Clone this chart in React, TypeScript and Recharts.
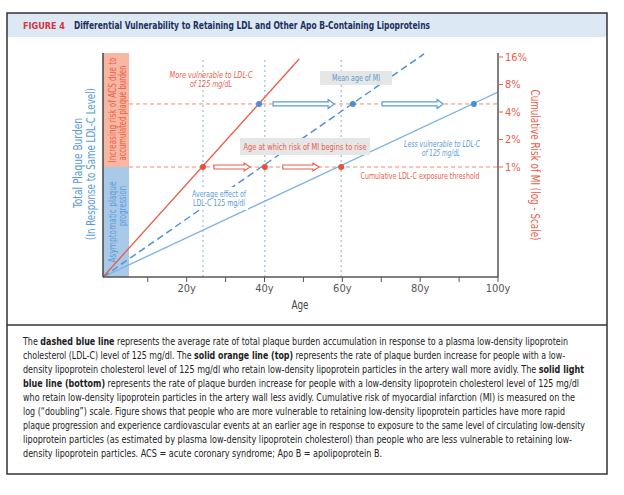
import React from 'react'
import {
  LineChart, Line, XAxis, YAxis, ReferenceLine, ReferenceArea, ReferenceDot
} from 'recharts'

// ages (x) and plaque burden (hidden left axis, 0-100)
const moreVulnerable = [{ age: -1.5, plaque: 0 }, { age: 48.9, plaque: 97.3 }]
const averageEffect = [{ age: -1.5, plaque: 0 }, { age: 81.0, plaque: 99.6 }]
const lessVulnerable = [{ age: -1.5, plaque: 0 }, { age: 100, plaque: 82.6 }]

const AGE_TICKS = [10, 20, 30, 40, 50, 60, 70, 80, 90, 100]
const RISK_TICKS = [1, 2, 4, 8, 16]
const RISK_DOMAIN = [0.0625, 17.7]

const THRESHOLD_RISK = 1
const MEAN_MI_RISK = 4.9
const onsetAges = [24.2, 40.1, 59.7]
const meanMiAges = [38.6, 62.7, 93.8]
const redArrows = [[27.0, 36.3], [44.7, 54.0]]
const blueArrows = [[42.2, 57.9], [70.2, 85.9]]
const BAND_AGES = [-1.5, 5.2]

const RED = '#ec5a43'
const BLUE = '#4a8fd6'
const LIGHT_BLUE = '#7cb2e2'
const TXT_BLUE = '#5b9bd5'
const TXT_RED = '#e8604c'
const FONT = "'Liberation Sans Narrow', 'DejaVu Sans Condensed', sans-serif"

const caption: [string, boolean][][] = [
  [['The ', false], ['dashed blue line', true], [' represents the average rate of total plaque burden accumulation in response to a plasma low-density lipoprotein', false]],
  [['cholesterol (LDL-C) level of 125 mg/dl. The ', false], ['solid orange line (top)', true], [' represents the rate of plaque burden increase for people with a low-', false]],
  [['density lipoprotein cholesterol level of 125 mg/dl who retain low-density lipoprotein particles in the artery wall more avidly. The ', false], ['solid light', true]],
  [['blue line (bottom)', true], [' represents the rate of plaque burden increase for people with a low-density lipoprotein cholesterol level of 125 mg/dl', false]],
  [['who retain low-density lipoprotein particles in the artery wall less avidly. Cumulative risk of myocardial infarction (MI) is measured on the', false]],
  [['log (\u201cdoubling\u201d) scale. Figure shows that people who are more vulnerable to retaining low-density lipoprotein particles have more rapid', false]],
  [['plaque progression and experience cardiovascular events at an earlier age in response to exposure to the same level of circulating low-density', false]],
  [['lipoprotein particles (as estimated by plasma low-density lipoprotein cholesterol) than people who are less vulnerable to retaining low-', false]],
  [['density lipoprotein particles. ACS = acute coronary syndrome; Apo B = apolipoprotein B.', false]],
]
const captionWidths = [545, 542, 561, 556, 552, 542, 562, 549, 359]

// hollow block arrow drawn along a reference segment
const makeArrow = (color: string, head: number) => (props: any) => {
  const { x1: xa, y1: cy, x2: xb } = props
  const bh = 4
  const hl = 6
  const d = `M${xa},${cy - bh / 2} L${xb - hl},${cy - bh / 2} L${xb - hl},${cy - head / 2} L${xb},${cy} ` +
    `L${xb - hl},${cy + head / 2} L${xb - hl},${cy + bh / 2} L${xa},${cy + bh / 2} Z`
  return <path d={d} fill="#fff" stroke={color} strokeWidth={1.2} />
}

const T = ({ x, y, w, children, rot, anchor = 'middle', ...rest }: any) => (
  <text
    x={x} y={y} textAnchor={anchor} fontFamily={FONT}
    textLength={w} lengthAdjust="spacingAndGlyphs"
    transform={rot ? `rotate(${rot} ${x} ${y})` : undefined}
    {...rest}
  >
    {children}
  </text>
)

export default function App() {
  return (
    <div style={{ position: 'absolute', left: 0, top: 0, width: 624, height: 495, background: '#fff' }}>
      <div style={{ position: 'absolute', left: 0, top: 0 }}>
        <LineChart width={624} height={320} margin={{ top: 53, right: 66, bottom: 13, left: 102 }}>
          <XAxis
            type="number" dataKey="age" domain={[-1.5, 100]} allowDataOverflow
            ticks={AGE_TICKS} tickFormatter={(v) => (v % 20 === 0 ? `${v}y` : '')}
            tickSize={5} height={30}
            axisLine={{ stroke: '#555', strokeWidth: 1.5 }} tickLine={{ stroke: '#555' }}
            tick={{ fontSize: 11, fill: '#555', fontFamily: FONT }}
          />
          <YAxis
            yAxisId="plaque" type="number" domain={[0, 100]} width={1} tick={false} tickLine={false}
            axisLine={{ stroke: '#444', strokeWidth: 1.5 }}
          />
          <YAxis
            yAxisId="risk" orientation="right" type="number" scale="log" domain={RISK_DOMAIN}
            allowDataOverflow ticks={RISK_TICKS} tickFormatter={(v) => `${v}%`} width={60}
            tickSize={5} axisLine={{ stroke: '#555', strokeWidth: 1.5 }} tickLine={{ stroke: TXT_RED }}
            tick={{ fontSize: 11, fill: TXT_RED, fontFamily: FONT, textAnchor: 'start' }}
          />

          <ReferenceArea yAxisId="risk" x1={BAND_AGES[0]} x2={BAND_AGES[1]} y1={THRESHOLD_RISK} y2={RISK_DOMAIN[1]}
            fill="#f8b7a2" fillOpacity={1} stroke="none" />
          <ReferenceArea yAxisId="risk" x1={BAND_AGES[0]} x2={BAND_AGES[1]} y1={RISK_DOMAIN[0]} y2={THRESHOLD_RISK}
            fill="#a9c9e9" fillOpacity={1} stroke="none" />

          {onsetAges.map((a) => (
            <ReferenceLine key={`v${a}`} yAxisId="plaque" segment={[{ x: a, y: 0 }, { x: a, y: 98.2 }]}
              stroke={LIGHT_BLUE} strokeDasharray="2 3" />
          ))}
          <ReferenceLine yAxisId="risk" segment={[{ x: BAND_AGES[1], y: THRESHOLD_RISK }, { x: 100, y: THRESHOLD_RISK }]}
            stroke="#f08a70" strokeDasharray="4 3" />
          <ReferenceLine yAxisId="risk" segment={[{ x: BAND_AGES[1], y: MEAN_MI_RISK }, { x: 100, y: MEAN_MI_RISK }]}
            stroke="#f08a70" strokeDasharray="4 3" />

          {redArrows.map(([a, b]) => (
            <ReferenceLine key={`ra${a}`} yAxisId="risk" segment={[{ x: a, y: THRESHOLD_RISK }, { x: b, y: THRESHOLD_RISK }]}
              shape={makeArrow(TXT_RED, 8)} />
          ))}
          {blueArrows.map(([a, b]) => (
            <ReferenceLine key={`ba${a}`} yAxisId="risk" segment={[{ x: a, y: MEAN_MI_RISK }, { x: b, y: MEAN_MI_RISK }]}
              shape={makeArrow(TXT_BLUE, 9)} />
          ))}

          <Line yAxisId="plaque" data={lessVulnerable} dataKey="plaque" stroke={LIGHT_BLUE} strokeWidth={1.3}
            dot={false} activeDot={false} isAnimationActive={false} />
          <Line yAxisId="plaque" data={averageEffect} dataKey="plaque" stroke={BLUE} strokeWidth={1.4}
            strokeDasharray="7 4" dot={false} activeDot={false} isAnimationActive={false} />
          <Line yAxisId="plaque" data={moreVulnerable} dataKey="plaque" stroke={RED} strokeWidth={1.3}
            dot={false} activeDot={false} isAnimationActive={false} />

          {onsetAges.map((a) => (
            <ReferenceDot key={`rd${a}`} yAxisId="risk" x={a} y={THRESHOLD_RISK} r={3} fill="#e8503a" stroke="none" />
          ))}
          {meanMiAges.map((a) => (
            <ReferenceDot key={`bd${a}`} yAxisId="risk" x={a} y={MEAN_MI_RISK} r={3} fill={BLUE} stroke="none" />
          ))}
        </LineChart>
      </div>

      <svg width={624} height={495} style={{ position: 'absolute', left: 0, top: 0, pointerEvents: 'none' }}>
        {/* frame + header */}
        <rect x={7} y={13} width={600} height={24} fill="#dce8f4" />
        <rect x={7} y={13} width={600} height={461} fill="none" stroke="#333" strokeWidth={1.5} />
        <line x1={7} x2={607} y1={325} y2={325} stroke="#333" strokeWidth={1.5} />
        <T x={23} y={29} w={42} anchor="start" fontSize={9} fontWeight="bold" fill="#d8323c">FIGURE 4</T>
        <T x={74} y={29} w={356} anchor="start" fontSize={10.5} fontWeight="bold" fill="#1b2f5e">
          Differential Vulnerability to Retaining LDL and Other Apo B-Containing Lipoproteins
        </T>

        {/* axis titles */}
        <T x={82} y={163} w={90} rot={-90} fontSize={11.5} fill={TXT_BLUE}>Total Plaque Burden</T>
        <T x={95} y={164} w={152} rot={-90} fontSize={11.5} fill={TXT_BLUE}>(In Response to Same LDL-C Level)</T>
        <T x={531} y={165} w={151} rot={90} fontSize={11.5} fill={TXT_RED}>Cumulative Risk of MI (log - Scale)</T>
        <T x={300} y={309} w={17} fontSize={11.5} fill="#444">Age</T>

        {/* band texts */}
        <T x={116} y={110} w={105} rot={-90} fontSize={10} fill={TXT_RED}>Increasing risk of ACS due to</T>
        <T x={126} y={113} w={95} rot={-90} fontSize={10} fill={TXT_RED}>accumulated plaque burden</T>
        <T x={116} y={222} w={81} rot={-90} fontSize={10} fill={TXT_BLUE}>Asymptomatic plaque</T>
        <T x={126} y={206} w={40} rot={-90} fontSize={10} fill={TXT_BLUE}>progression</T>

        {/* annotations */}
        <T x={211} y={78} w={83} fontSize={9} fontStyle="italic" fill={TXT_RED}>More vulnerable to LDL-C</T>
        <T x={211} y={87} w={42} fontSize={9} fontStyle="italic" fill={TXT_RED}>of 125 mg/dL</T>
        <rect x={320} y={71} width={72} height={14} fill="#e6e6e6" />
        <T x={356} y={81} w={48} fontSize={9.5} fill={TXT_BLUE}>Mean age of MI</T>
        <rect x={240} y={138} width={130} height={17} fill="#e6e6e6" />
        <T x={305} y={150} w={123} fontSize={9.5} fill={TXT_RED}>Age at which risk of MI begins to rise</T>
        <rect x={190} y={187} width={58} height={23} fill="#fff" />
        <T x={219} y={197} w={54} fontSize={9.5} fill={TXT_BLUE}>Average effect of</T>
        <T x={219} y={206} w={52} fontSize={9.5} fill={TXT_BLUE}>LDL-C 125 mg/dl</T>
        <T x={442} y={147} w={76} fontSize={9} fontStyle="italic" fill={TXT_BLUE}>Less vulnerable to LDL-C</T>
        <T x={441} y={156} w={38} fontSize={9} fontStyle="italic" fill={TXT_BLUE}>of 125 mg/dL</T>
        <T x={420} y={179} w={119} fontSize={9.5} fill={TXT_RED}>Cumulative LDL-C exposure threshold</T>

        {/* caption */}
        {caption.map((segs, i) => (
          <T key={i} x={23} y={345 + 14 * i} w={captionWidths[i]} anchor="start" fontSize={9.8} fill="#222">
            {segs.map(([s, b], j) => (
              <tspan key={j} fontWeight={b ? 'bold' : 'normal'}>{s}</tspan>
            ))}
          </T>
        ))}
      </svg>
    </div>
  )
}
